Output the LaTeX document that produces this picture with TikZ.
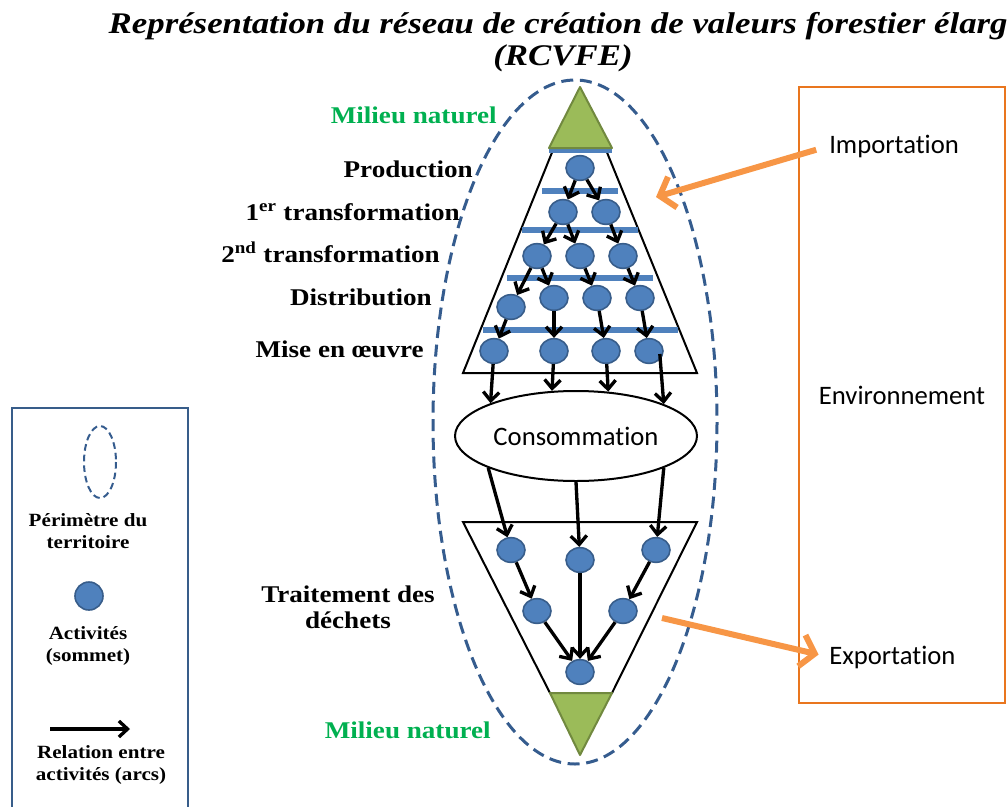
\documentclass[tikz,border=0pt]{standalone}
\usepackage{fontspec}
\setmainfont{Liberation Serif}
\newfontfamily\labfont[FakeStretch=1.13]{Liberation Serif}
\newfontfamily\ttlfont[FakeStretch=1.16]{Liberation Serif}
\newfontfamily\calfont[Ligatures=NoCommon]{Carlito}
\usetikzlibrary{arrows.meta,shapes.geometric}
\definecolor{nodeblue}{HTML}{4F81BD}
\definecolor{nodeedge}{HTML}{385D8A}
\definecolor{perim}{HTML}{355C8E}
\definecolor{leaf}{HTML}{9BBB59}
\definecolor{leafedge}{HTML}{71893F}
\definecolor{natgreen}{HTML}{00B050}
\definecolor{envorange}{HTML}{E9761E}
\definecolor{arrorange}{HTML}{F79646}
\tikzset{
  act/.style={ellipse, fill=nodeblue, draw=nodeedge, line width=1.2pt, minimum width=21pt, minimum height=18.5pt, inner sep=0pt},
  arc/.style={-{Straight Barb[length=6.5pt,width=12pt]}, line width=2.5pt},
  bar/.style={draw=nodeblue, line width=4pt},
  lbl/.style={font=\labfont\bfseries\fontsize{18}{19.5}\selectfont, anchor=base east, inner sep=0pt},
  nat/.style={lbl, text=natgreen},
  leg/.style={font=\labfont\bfseries\fontsize{14}{16.2}\selectfont, align=center, anchor=base, inner sep=0pt},
  caltxt/.style={font=\calfont\fontsize{20}{24}\selectfont, inner sep=0pt},
  perimeter/.style={draw=perim, dash pattern=on 9pt off 5pt, line width=2.25pt},
  flow/.style={draw=arrorange, line width=4.5pt, -{Straight Barb[length=10pt,width=24pt]}},
  leaftri/.style={fill=leaf, draw=leafedge, line width=1.5pt, line join=round},
  trap/.style={draw=black, line width=1.5pt}
}
\begin{document}
\begin{tikzpicture}[x=0.75pt,y=-0.75pt]
\useasboundingbox (0,0) rectangle (1007,807);
\clip (0,0) rectangle (1007,807);
% title
\node[font=\ttlfont\bfseries\itshape\fontsize{22.5}{24}\selectfont, align=center, anchor=base, inner sep=0pt] (title) at (563,65)
  {Représentation du réseau de création de valeurs forestier élargi\\(RCVFE)};
% territory perimeter
\draw[perimeter] (575,422) ellipse [x radius=142, y radius=342];
% upper trapezoid
\draw[trap] (553,150) -- (606,150) -- (697,373) -- (463,373) -- cycle;
% bars
\draw[bar] (549,150) -- (612,150);
\draw[bar] (542,191) -- (618,191);
\draw[bar] (522,230) -- (638,230);
\draw[bar] (507,278) -- (653,278);
\draw[bar] (483,330) -- (678,330);
% lower trapezoid
\draw[trap] (463,522) -- (697,522) -- (612,693) -- (550,693) -- cycle;
% natural environment triangles
\draw[leaftri] (580,87) -- (612,148) -- (549,148) -- cycle;
\draw[leaftri] (550,693) -- (612,693) -- (580,755) -- cycle;
% activities
\node[act] (r0) at (580,168) {};
\node[act] (r1a) at (563,212) {};
\node[act] (r1b) at (606,212) {};
\node[act] (r2a) at (537,256) {};
\node[act] (r2b) at (580,256) {};
\node[act] (r2c) at (623,256) {};
\node[act] (r3a) at (511,307) {};
\node[act] (r3b) at (554,298) {};
\node[act] (r3c) at (597,298) {};
\node[act] (r3d) at (640,298) {};
\node[act] (r4a) at (494,351) {};
\node[act] (r4b) at (554,351) {};
\node[act] (r4c) at (606,351) {};
\node[act] (r4d) at (649,351) {};
\node[ellipse, draw=black, line width=1.5pt, fill=white, minimum width=181.5pt, minimum height=67.5pt, inner sep=0pt, font=\calfont\fontsize{20}{24}\selectfont] (cons) at (576,436) {Consommation};
\node[act] (c1) at (511,550) {};
\node[act] (c2) at (580,560) {};
\node[act] (c3) at (656,550) {};
\node[act] (c4) at (537,611) {};
\node[act] (c5) at (623,611) {};
\node[act] (c6) at (580,672) {};
% relations
\draw[arc] (r0) -- (r1a);
\draw[arc] (r0) -- (r1b);
\draw[arc] (r1a) -- (r2a);
\draw[arc] (r1a) -- (r2b);
\draw[arc] (r1b) -- (r2c);
\draw[arc] (r2a) -- (r3a);
\draw[arc] (r2a) -- (r3b);
\draw[arc] (r2b) -- (r3c);
\draw[arc] (r2c) -- (r3d);
\draw[arc] (r3a) -- (r4a);
\draw[arc] (r3b) -- (r4b);
\draw[arc] (r3c) -- (r4c);
\draw[arc] (r3d) -- (r4d);
\draw[arc] (r4a) -- (cons.159);
\draw[arc] (r4b) -- (cons.118);
\draw[arc] (r4c) -- (cons.54);
\draw[arc] (r4d.east) ++(-4,3) coordinate (r4dout) -- (cons.20);
\draw[arc] (cons.200) -- (c1);
\draw[arc] (cons.270) -- (c2);
\draw[arc] (cons.340) -- (c3);
\draw[arc] (c1) -- (c4);
\draw[arc] (c3) -- (c5);
\draw[arc] (c2) -- (c6);
\draw[arc] (c4) -- (c6);
\draw[arc] (c5) -- (c6);
% stage labels
\node[nat] (mn1) at (497,123) {Milieu naturel};
\node[lbl] (prod) at (473,177) {Production};
\node[lbl] (tr1) at (460,220) {1\textsuperscript{er} transformation};
\node[lbl] (tr2) at (440,262) {2\textsuperscript{nd} transformation};
\node[lbl] (dist) at (432,305) {Distribution};
\node[lbl] (mise) at (424,357) {Mise en œuvre};
\node[lbl, align=center, anchor=base] (trait) at (348,628) {Traitement des\\déchets};
\node[nat] (mn2) at (491,738) {Milieu naturel};
% environment
\node[draw=envorange, line width=2pt, minimum width=154.5pt, minimum height=462pt, caltxt] (env) at (902,395) {Environnement};
\node[caltxt, anchor=base west] (imp) at (829,153) {Importation};
\node[caltxt, anchor=base west] (exp) at (829,664) {Exportation};
\coordinate (impend) at (656,197);
\coordinate (expstart) at (662,618);
\draw[flow, shorten <=10pt] (imp.west) -- (impend);
\draw[flow, shorten >=8pt] (expstart) -- (exp.west);
% legend
\draw[draw=nodeedge, line width=1.5pt] (12,408) rectangle (188,830);
\draw[perimeter, line width=1.5pt, dash pattern=on 5pt off 3pt] (100,462) ellipse [x radius=16, y radius=36];
\node[leg] (lg1) at (88,548) {Périmètre du\\territoire};
\node[act, circle, minimum size=21pt] (lgnode) at (89,596) {};
\node[leg] (lg2) at (88,661) {Activités\\(sommet)};
\coordinate (lga) at (50,729);
\coordinate (lgb) at (130,729);
\draw[arc] (lga) -- (lgb);
\node[leg] (lg3) at (101,780) {Relation entre\\activités (arcs)};
\end{tikzpicture}
\end{document}
